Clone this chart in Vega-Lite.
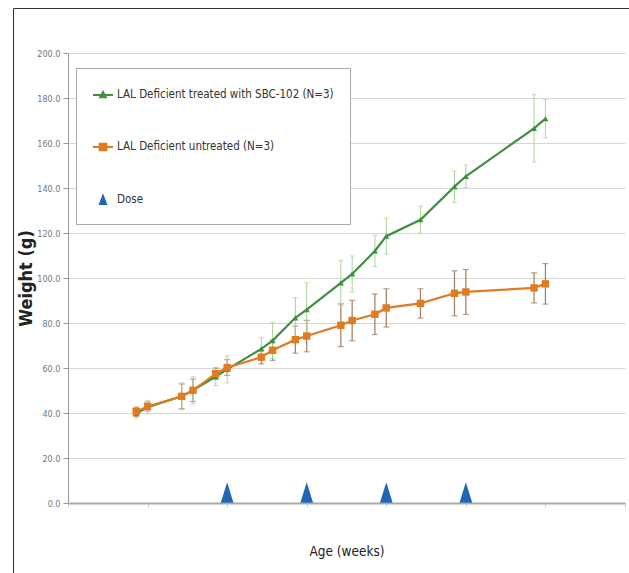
{
  "$schema": "https://vega.github.io/schema/vega-lite/v6.json",
  "width": 557,
  "height": 450,
  "autosize": {"type": "none"},
  "padding": {"left": 68, "top": 53, "right": 4, "bottom": 70},
  "background": "white",
  "config": {"view": {"stroke": null}, "font": "DejaVu Sans Condensed, Liberation Sans, sans-serif"},
  "data": {
    "values": [
      {"series": "LAL Deficient treated with SBC-102 (N=3)", "x": 0.857, "y": 39.7, "err": 2},
      {"series": "LAL Deficient treated with SBC-102 (N=3)", "x": 1.0, "y": 42.6, "err": 3},
      {"series": "LAL Deficient treated with SBC-102 (N=3)", "x": 1.429, "y": 47.4, "err": 6},
      {"series": "LAL Deficient treated with SBC-102 (N=3)", "x": 1.571, "y": 50.1, "err": 6},
      {"series": "LAL Deficient treated with SBC-102 (N=3)", "x": 1.857, "y": 56.2, "err": 4},
      {"series": "LAL Deficient treated with SBC-102 (N=3)", "x": 2.0, "y": 59.4, "err": 6},
      {"series": "LAL Deficient treated with SBC-102 (N=3)", "x": 2.429, "y": 68.5, "err": 5},
      {"series": "LAL Deficient treated with SBC-102 (N=3)", "x": 2.571, "y": 72.2, "err": 8},
      {"series": "LAL Deficient treated with SBC-102 (N=3)", "x": 2.857, "y": 82.3, "err": 9},
      {"series": "LAL Deficient treated with SBC-102 (N=3)", "x": 3.0, "y": 85.9, "err": 12},
      {"series": "LAL Deficient treated with SBC-102 (N=3)", "x": 3.429, "y": 97.8, "err": 10},
      {"series": "LAL Deficient treated with SBC-102 (N=3)", "x": 3.571, "y": 101.8, "err": 8},
      {"series": "LAL Deficient treated with SBC-102 (N=3)", "x": 3.857, "y": 112.0, "err": 7},
      {"series": "LAL Deficient treated with SBC-102 (N=3)", "x": 4.0, "y": 118.6, "err": 8},
      {"series": "LAL Deficient treated with SBC-102 (N=3)", "x": 4.429, "y": 125.9, "err": 6},
      {"series": "LAL Deficient treated with SBC-102 (N=3)", "x": 4.857, "y": 140.6, "err": 7},
      {"series": "LAL Deficient treated with SBC-102 (N=3)", "x": 5.0, "y": 145.2, "err": 5},
      {"series": "LAL Deficient treated with SBC-102 (N=3)", "x": 5.857, "y": 166.5, "err": 15},
      {"series": "LAL Deficient treated with SBC-102 (N=3)", "x": 6.0, "y": 170.8, "err": 8.5},
      {"series": "LAL Deficient untreated (N=3)", "x": 0.857, "y": 40.6, "err": 2},
      {"series": "LAL Deficient untreated (N=3)", "x": 1.0, "y": 42.9, "err": 2},
      {"series": "LAL Deficient untreated (N=3)", "x": 1.429, "y": 47.4, "err": 5.5},
      {"series": "LAL Deficient untreated (N=3)", "x": 1.571, "y": 50.1, "err": 5},
      {"series": "LAL Deficient untreated (N=3)", "x": 1.857, "y": 57.5, "err": 2.5},
      {"series": "LAL Deficient untreated (N=3)", "x": 2.0, "y": 60.2, "err": 3.5},
      {"series": "LAL Deficient untreated (N=3)", "x": 2.429, "y": 64.8, "err": 3},
      {"series": "LAL Deficient untreated (N=3)", "x": 2.571, "y": 67.9, "err": 4.5},
      {"series": "LAL Deficient untreated (N=3)", "x": 2.857, "y": 72.6, "err": 6},
      {"series": "LAL Deficient untreated (N=3)", "x": 3.0, "y": 74.2, "err": 7},
      {"series": "LAL Deficient untreated (N=3)", "x": 3.429, "y": 79.0, "err": 9.5},
      {"series": "LAL Deficient untreated (N=3)", "x": 3.571, "y": 81.1, "err": 9},
      {"series": "LAL Deficient untreated (N=3)", "x": 3.857, "y": 83.9, "err": 9},
      {"series": "LAL Deficient untreated (N=3)", "x": 4.0, "y": 86.7, "err": 8.5},
      {"series": "LAL Deficient untreated (N=3)", "x": 4.429, "y": 88.7, "err": 6.5},
      {"series": "LAL Deficient untreated (N=3)", "x": 4.857, "y": 93.2, "err": 10},
      {"series": "LAL Deficient untreated (N=3)", "x": 5.0, "y": 93.8, "err": 10},
      {"series": "LAL Deficient untreated (N=3)", "x": 5.857, "y": 95.6, "err": 6.7},
      {"series": "LAL Deficient untreated (N=3)", "x": 6.0, "y": 97.4, "err": 9},
      {"series": "Dose", "x": 2, "y": 4.7},
      {"series": "Dose", "x": 3, "y": 4.7},
      {"series": "Dose", "x": 4, "y": 4.7},
      {"series": "Dose", "x": 5, "y": 4.7}
    ]
  },
  "encoding": {
    "x": {
      "field": "x", "type": "quantitative", "title": "Age (weeks)",
      "scale": {"domain": [0, 7], "nice": false, "zero": false},
      "axis": {"values": [0, 1, 2, 3, 4, 5, 6, 7], "labels": false, "grid": false, "domainColor": "#aaaaaa", "domainWidth": 2, "tickColor": "#cccccc", "tickSize": 4, "titleFontSize": 13.5, "titleFontWeight": "normal", "titleColor": "#222222", "titlePadding": 37}
    },
    "y": {
      "field": "y", "type": "quantitative", "title": "Weight (g)",
      "scale": {"domain": [0, 200], "nice": false},
      "axis": {"values": [0, 20, 40, 60, 80, 100, 120, 140, 160, 180, 200], "format": ".1f", "grid": true, "gridColor": "#d6d6d6", "gridWidth": 1.2, "domainColor": "#999999", "tickColor": "#999999", "tickSize": 5, "labelFontSize": 9, "labelColor": "#777777", "labelPadding": 3, "titleFontSize": 18, "titleFontWeight": "bold", "titleColor": "#222222", "titlePadding": 1}
    }
  },
  "layer": [
    {
      "transform": [{"filter": "datum.series === 'LAL Deficient untreated (N=3)'"}],
      "mark": {"type": "errorbar", "ticks": {"size": 6}, "color": "#a07a5c", "thickness": 1.2},
      "encoding": {"yError": {"field": "err"}}
    },
    {
      "transform": [{"filter": "datum.series === 'LAL Deficient treated with SBC-102 (N=3)'"}],
      "mark": {"type": "errorbar", "ticks": {"size": 5}, "color": "#a8d49a", "thickness": 1},
      "encoding": {"yError": {"field": "err"}}
    },
    {
      "transform": [{"filter": "datum.series !== 'Dose'"}],
      "mark": {"type": "line", "strokeWidth": 2.2},
      "encoding": {
        "color": {
          "field": "series", "type": "nominal",
          "scale": {"domain": ["LAL Deficient treated with SBC-102 (N=3)", "LAL Deficient untreated (N=3)", "Dose"], "range": ["#3f8f3f", "#e07b22", "#1f66b4"]},
          "legend": {
            "orient": "none", "legendX": 8, "legendY": 15, "title": null, "padding": 16,
            "fillColor": "white", "strokeColor": "#aaaaaa", "rowPadding": 34, "symbolSize": 400,
            "labelFontSize": 11.5, "labelColor": "#333333", "labelOffset": 3, "labelLimit": 400,
            "encode": {
              "symbols": {
                "update": {
                  "shape": {"signal": "datum.value === 'Dose' ? 'M0,-0.4L0.3,0.4H-0.3Z' : datum.value === 'LAL Deficient untreated (N=3)' ? 'M-1,0H1M-0.33,-0.33H0.33V0.33H-0.33Z' : 'M-1,0H1M0,-0.3L0.28,0.22H-0.28Z'"},
                  "stroke": {"signal": "scale('color', datum.value)"},
                  "fill": {"signal": "scale('color', datum.value)"},
                  "strokeWidth": {"value": 2},
                  "size": {"value": 400},
                  "opacity": {"value": 1}
                }
              }
            }
          }
        }
      }
    },
    {
      "transform": [{"filter": "datum.series === 'LAL Deficient treated with SBC-102 (N=3)'"}],
      "mark": {"type": "point", "filled": true, "opacity": 1, "shape": "triangle-up", "size": 36},
      "encoding": {"color": {"field": "series", "type": "nominal"}}
    },
    {
      "transform": [{"filter": "datum.series === 'LAL Deficient untreated (N=3)'"}],
      "mark": {"type": "point", "filled": true, "opacity": 1, "shape": "square", "size": 55},
      "encoding": {"color": {"field": "series", "type": "nominal"}}
    },
    {
      "transform": [{"filter": "datum.series === 'Dose'"}],
      "mark": {"type": "point", "filled": true, "shape": "M0,-1L0.62,1H-0.62Z", "size": 420},
      "encoding": {
        "color": {"field": "series", "type": "nominal"},
        "opacity": {
          "field": "series", "type": "nominal",
          "scale": {"range": [1, 1]},
          "legend": {
            "orient": "none", "legendX": -55, "legendY": -45, "title": null, "padding": 335,
            "fillColor": null, "strokeColor": "#333333", "symbolSize": 0, "symbolStrokeWidth": 0, "labelExpr": "''", "labelFontSize": 1,
            "encode": {
              "legend": {"update": {"strokeWidth": {"value": 2}}},
              "symbols": {"update": {"opacity": {"value": 0}, "strokeWidth": {"value": 0}, "size": {"value": 0}}}
            }
          }
        }
      }
    }
  ]
}
